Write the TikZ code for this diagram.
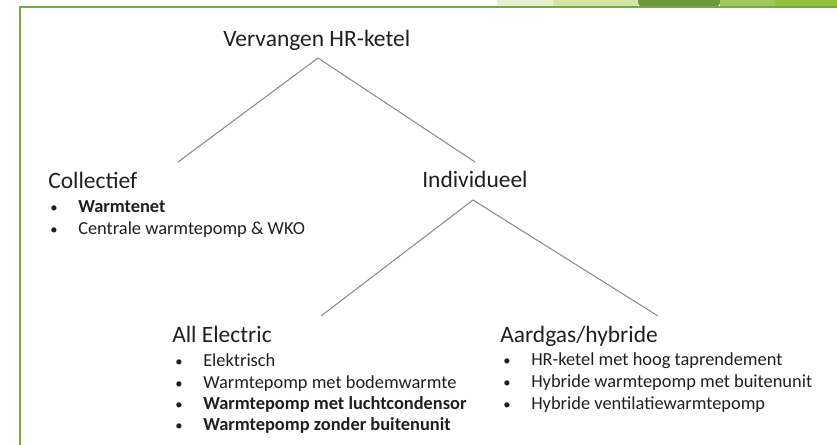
\documentclass[tikz,border=0pt]{standalone}
\usepackage{fontspec}
\setmainfont{Carlito}
\definecolor{framegreen}{HTML}{70AD47}
\definecolor{bandA}{HTML}{E6EFCF}
\definecolor{bandB}{HTML}{D4E5A5}
\definecolor{bandC}{HTML}{6A9A3A}
\definecolor{bandD}{HTML}{A0C65E}
\definecolor{bandE}{HTML}{93C13A}
\definecolor{linegray}{HTML}{8C8C8C}
\definecolor{txt}{HTML}{1F1F1F}
\tikzset{
  head/.style={anchor=base west, inner sep=0pt, text=txt, font=\fontsize{17.6}{21}\selectfont},
  item/.style={anchor=base west, inner sep=0pt, text=txt, font=\fontsize{13.8}{16}\selectfont},
  bul/.style={anchor=base west, inner sep=0pt, text=txt, font=\fontsize{11}{13}\selectfont},
  branch/.style={draw=linegray, line width=0.8pt},
}
\begin{document}
\begin{tikzpicture}[x=0.75pt,y=-0.75pt]
\useasboundingbox (0,0) rectangle (837,445);
% top band
\fill[bandA] (497,0) rectangle (553,7);
\fill[bandB] (553,0) rectangle (638,7);
\fill[bandD] (720,0) rectangle (775,7);
\fill[bandE] (775,0) rectangle (837,7);
\fill[bandC] (638,0) -- (638,3) to[out=-90,in=180] (642,6.5) -- (716,6.5) to[out=0,in=-90] (720,3) -- (720,0) -- cycle;
% frame
\draw[framegreen, line width=1.6pt] (20,445) -- (20,7) -- (837,7);
% headings
\node[head] (title) at (223,47) {Vervangen HR-ketel};
\node[head] (coll) at (48,189) {Collectief};
\node[head] (indiv) at (422,188) {Individueel};
\node[head] (allel) at (172,342) {All Electric};
\node[head] (aard) at (500,342) {Aardgas/hybride};
% Collectief items
\node[bul] (cb1) at (50,212) {•};
\node[item] (ci1) at (78,212) {\bfseries Warmtenet};
\node[bul] (cb2) at (50,234) {•};
\node[item] (ci2) at (78,234) {Centrale warmtepomp \& WKO};
% All Electric items
\node[bul] (ab1) at (175,366) {•};
\node[item] (ai1) at (203,366) {Elektrisch};
\node[bul] (ab2) at (175,388) {•};
\node[item] (ai2) at (203,388) {Warmtepomp met bodemwarmte};
\node[bul] (ab3) at (175,409) {•};
\node[item] (ai3) at (203,409) {\bfseries Warmtepomp met luchtcondensor};
\node[bul] (ab4) at (175,430) {•};
\node[item] (ai4) at (203,430) {\bfseries Warmtepomp zonder buitenunit};
% Aardgas items
\node[bul] (gb1) at (503,365) {•};
\node[item] (gi1) at (531,365) {HR-ketel met hoog taprendement};
\node[bul] (gb2) at (503,387) {•};
\node[item] (gi2) at (531,387) {Hybride warmtepomp met buitenunit};
\node[bul] (gb3) at (503,409) {•};
\node[item] (gi3) at (531,409) {Hybride ventilatiewarmtepomp};
% connector points
\coordinate (titleapex) at (318,58);
\coordinate (collend) at (178,162);
\coordinate (indivend) at (475,162);
\coordinate (indivapex) at (473,200);
\coordinate (allelend) at (321,316);
\coordinate (aardend) at (658,316);
\draw[branch] (collend) -- (titleapex) -- (indivend);
\draw[branch] (allelend) -- (indivapex) -- (aardend);
\end{tikzpicture}
\end{document}
